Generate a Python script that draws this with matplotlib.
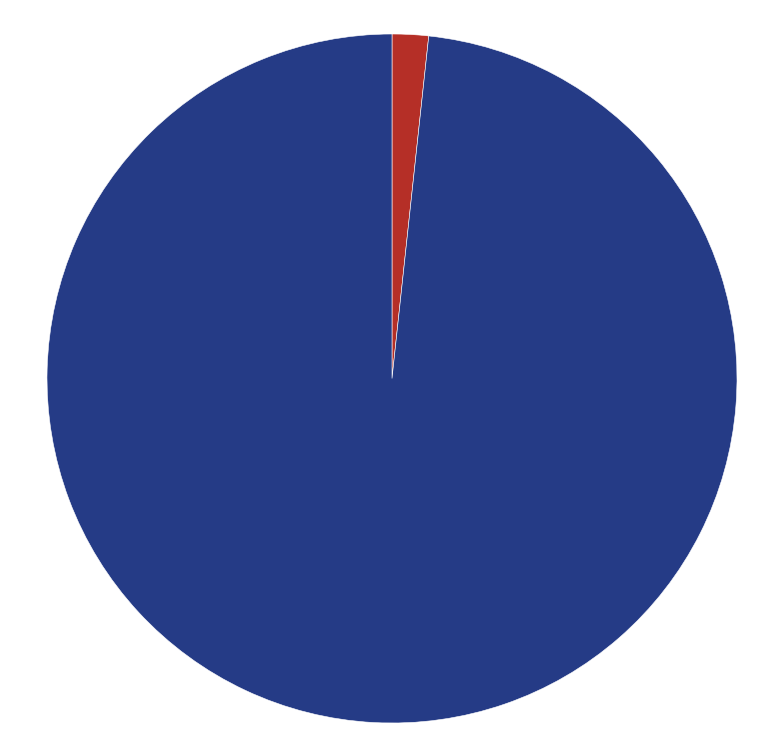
import matplotlib
matplotlib.use('Agg')
import matplotlib.pyplot as plt

# slice shares (percent), clockwise from 12 o'clock
labels = ['Small', 'Large']
values = [1.7, 98.3]
colours = ['#B52F27', '#253B86']

fig = plt.figure(figsize=(7.68, 7.44), dpi=100)
ax = fig.add_axes([47/768, 21/744, 690/768, 689/744])
ax.pie(values, colors=colours, startangle=90, counterclock=False,
       radius=1.0, wedgeprops=dict(edgecolor='white', linewidth=0.4))
ax.set_xlim(-1, 1)
ax.set_ylim(-1, 1)
ax.set_aspect('auto')
ax.axis('off')

plt.savefig('out.png', dpi=100)
plt.close()
